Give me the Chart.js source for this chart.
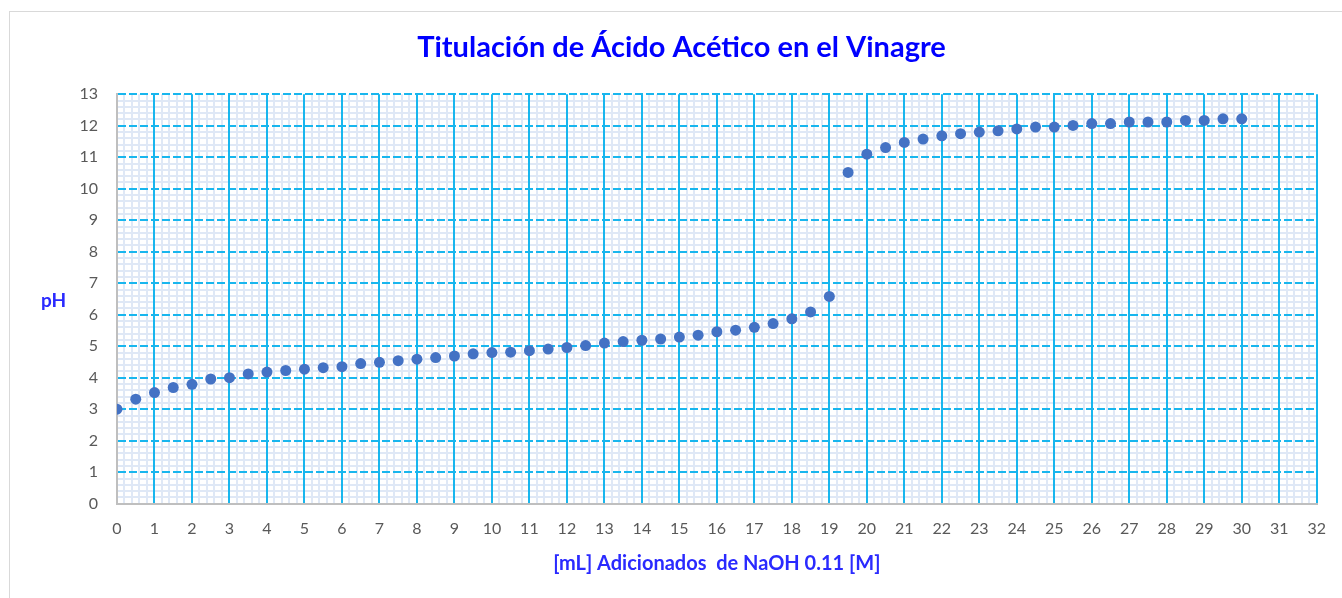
<!DOCTYPE html>
<html>
<head>
<meta charset="utf-8">
<script src="https://cdn.jsdelivr.net/npm/chart.js@4.4.1/dist/chart.umd.min.js"></script>
<style>
  html, body { margin: 0; padding: 0; background: #ffffff; overflow: hidden; }
  #wrap { position: relative; width: 1342px; height: 598px; }
  #frame { position: absolute; left: 9px; top: 11px; width: 1400px; height: 700px; border: 1px solid #d9d9d9; box-sizing: border-box; }
  #chart { position: absolute; left: 0; top: 0; }
  #ylab { position: absolute; left: 41px; top: 288px; font: bold 19px Lato, "Open Sans", sans-serif; color: #2a2aff; }
</style>
</head>
<body>
<div id="wrap">
  <div id="frame"></div>
  <canvas id="chart" width="1342" height="598"></canvas>
  <div id="ylab">pH</div>
</div>
<script>
// ---- data ----
const volumeML = [0, 0.5, 1, 1.5, 2, 2.5, 3, 3.5, 4, 4.5, 5, 5.5, 6, 6.5, 7, 7.5, 8, 8.5, 9, 9.5,
  10, 10.5, 11, 11.5, 12, 12.5, 13, 13.5, 14, 14.5, 15, 15.5, 16, 16.5, 17, 17.5, 18, 18.5, 19, 19.5,
  20, 20.5, 21, 21.5, 22, 22.5, 23, 23.5, 24, 24.5, 25, 25.5, 26, 26.5, 27, 27.5, 28, 28.5, 29, 29.5, 30];
const phValues = [3.00, 3.32, 3.53, 3.69, 3.79, 3.96, 4.00, 4.12, 4.18, 4.23, 4.27, 4.32, 4.35, 4.45, 4.49, 4.54, 4.59, 4.64, 4.69, 4.76,
  4.80, 4.81, 4.86, 4.91, 4.96, 5.02, 5.10, 5.15, 5.19, 5.23, 5.29, 5.35, 5.46, 5.51, 5.60, 5.72, 5.87, 6.09, 6.58, 10.52,
  11.10, 11.31, 11.47, 11.58, 11.68, 11.75, 11.80, 11.84, 11.90, 11.96, 11.96, 12.01, 12.07, 12.07, 12.12, 12.12, 12.12, 12.17, 12.17, 12.22, 12.22];
const xTickValues = [0, 1, 2, 3, 4, 5, 6, 7, 8, 9, 10, 11, 12, 13, 14, 15, 16, 17, 18, 19, 20, 21, 22, 23, 24, 25, 26, 27, 28, 29, 30, 31, 32];
const yTickValues = [0, 1, 2, 3, 4, 5, 6, 7, 8, 9, 10, 11, 12, 13];
const chartTitle = 'Titulación de Ácido Acético en el Vinagre';
const xAxisTitle = '[mL] Adicionados  de NaOH 0.11 [M]';

const points = volumeML.map((v, i) => ({ x: v, y: phValues[i] }));

const FONT = 'Lato, "Open Sans", sans-serif';
const GRID_BLUE = '#18b6ee';
const MINOR = '#dfe8f6';

// minor (0.2 step) grid drawn through the chart's own scales
const minorGrid = {
  id: 'minorGrid',
  beforeDraw(chart) {
    const { ctx, chartArea: a, scales: { x, y } } = chart;
    ctx.save();
    ctx.strokeStyle = MINOR;
    ctx.lineWidth = 2;
    ctx.beginPath();
    for (let i = 0; i < xTickValues.length - 1; i++) {
      for (let k = 1; k < 5; k++) {
        const px = Math.round(x.getPixelForValue(xTickValues[i] + k * 0.2));
        ctx.moveTo(px, a.top); ctx.lineTo(px, a.bottom);
      }
    }
    for (let i = 0; i < yTickValues.length - 1; i++) {
      for (let k = 1; k < 5; k++) {
        const py = Math.round(y.getPixelForValue(yTickValues[i] + k * 0.2));
        ctx.moveTo(a.left, py); ctx.lineTo(a.right, py);
      }
    }
    ctx.stroke();
    ctx.restore();
  }
};

new Chart(document.getElementById('chart'), {
  type: 'scatter',
  data: {
    datasets: [{
      data: points,
      backgroundColor: '#4472c4',
      borderColor: '#4472c4',
      borderWidth: 0,
      pointRadius: 5.5,
      pointHoverRadius: 5.5,
      showLine: false
    }]
  },
  options: {
    responsive: false,
    animation: false,
    devicePixelRatio: 1,
    layout: { padding: { left: 44, right: 23, top: 0, bottom: 0 } },
    plugins: {
      legend: { display: false },
      tooltip: { enabled: false },
      title: {
        display: true,
        text: chartTitle,
        color: '#0000ff',
        font: { family: FONT, size: 29, weight: 'bold', lineHeight: 1.2 },
        padding: { top: 30.6, bottom: 28.9 }
      }
    },
    scales: {
      x: {
        type: 'linear',
        min: 0, max: 32,
        afterBuildTicks: s => { s.ticks = xTickValues.map(v => ({ value: v })); },
        afterFit: s => { s.height = 94.3; },
        ticks: { color: '#595959', font: { family: FONT, size: 16 }, padding: 16, maxRotation: 0, autoSkip: false },
        grid: {
          drawTicks: false,
          lineWidth: 2,
          color: c => (c.tick && c.tick.value === 0) ? 'rgba(0,0,0,0)' : GRID_BLUE
        },
        border: { display: true, color: '#bfbfbf', width: 2 },
        title: {
          display: true,
          text: xAxisTitle,
          color: '#2a2aff',
          font: { family: FONT, size: 20, weight: 'bold', lineHeight: 1.2 },
          padding: { top: 0, bottom: 22 }
        }
      },
      y: {
        type: 'linear',
        min: 0, max: 13,
        afterBuildTicks: s => { s.ticks = yTickValues.map(v => ({ value: v })); },
        afterFit: s => { s.width = 73; },
        ticks: { color: '#595959', font: { family: FONT, size: 16 }, padding: 19 },
        grid: {
          drawTicks: false,
          lineWidth: 2,
          color: c => (c.tick && c.tick.value === 0) ? 'rgba(0,0,0,0)' : GRID_BLUE
        },
        border: { display: true, color: '#bfbfbf', width: 2, dash: [8, 3] }
      }
    }
  },
  plugins: [minorGrid]
});
</script>
</body>
</html>
